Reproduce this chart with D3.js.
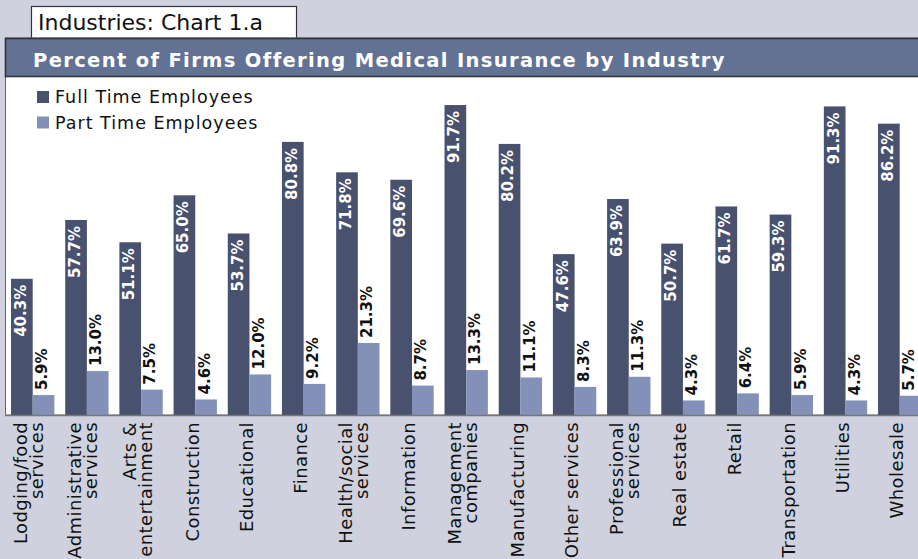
<!DOCTYPE html>
<html lang="en">
<head>
  <meta charset="UTF-8">
  <title>Percent of Firms Offering Medical Insurance by Industry</title>
  <script src="https://d3js.org/d3.v7.min.js"></script>
  <style>
    body { margin: 0; background: #cfd1de; }
    svg { display: block; }
    text { font-family: "DejaVu Sans", sans-serif; }
  </style>
</head>
<body>
  <svg id="chart" width="918" height="559"></svg>

  <script>
    // industries, "|" marks a line break in the axis label
    const categories = [
      "Lodging/food|services", "Administrative|services", "Arts &|entertainment",
      "Construction", "Educational", "Finance", "Health/social|services",
      "Information", "Management|companies", "Manufacturing", "Other services",
      "Professional|services", "Real estate", "Retail", "Transportation",
      "Utilities", "Wholesale"
    ];
    const fullTime = [40.3, 57.7, 51.1, 65.0, 53.7, 80.8, 71.8, 69.6, 91.7, 80.2, 47.6, 63.9, 50.7, 61.7, 59.3, 91.3, 86.2];
    const partTime = [5.9, 13.0, 7.5, 4.6, 12.0, 9.2, 21.3, 8.7, 13.3, 11.1, 8.3, 11.3, 4.3, 6.4, 5.9, 4.3, 5.7];
    const seriesNames = ["Full Time Employees", "Part Time Employees"];

    const colors = { full: "#48516e", part: "#8391b8" };
    const svg = d3.select("#chart");

    const data = categories.map((c, i) => ({ cat: c, full: fullTime[i], part: partTime[i] }));

    const x0 = d3.scaleBand().domain(categories).range([5.6, 926.8])
      .paddingInner(0.2).paddingOuter(0.1);
    const x1 = d3.scaleBand().domain(["full", "part"]).range([0, x0.bandwidth()]);
    const y = d3.scaleLinear().domain([0, 100]).range([415, 77]);

    // tab
    svg.append("rect").attr("x", 31.5).attr("y", 6.5).attr("width", 265).attr("height", 32)
      .attr("fill", "#fff").attr("stroke", "#333").attr("stroke-width", 1.2);
    svg.append("text").attr("x", 38).attr("y", 30)
      .attr("font-size", 22).attr("fill", "#111")
      .text("Industries:  Chart 1.a");

    // panel
    svg.append("rect").attr("x", 5.5).attr("y", 38).attr("width", 930).attr("height", 377)
      .attr("fill", "#fff").attr("stroke", "#666").attr("stroke-width", 1);
    svg.append("rect").attr("x", 5.5).attr("y", 38.5).attr("width", 930).attr("height", 38)
      .attr("fill", "#627294").attr("stroke", "#333").attr("stroke-width", 1.6);
    svg.append("text").attr("x", 33).attr("y", 67)
      .attr("font-size", 19.5).attr("font-weight", "bold").attr("fill", "#fff")
      .attr("letter-spacing", 1.35)
      .text("Percent of Firms Offering Medical Insurance by Industry");

    // legend
    const legend = svg.append("g");
    seriesNames.forEach((name, i) => {
      const g = legend.append("g").attr("transform", `translate(37, ${91 + i * 25.5})`);
      g.append("rect").attr("width", 12).attr("height", 12)
        .attr("fill", i === 0 ? colors.full : colors.part);
      g.append("text").attr("x", 18).attr("y", 12)
        .attr("font-size", 17.5).attr("letter-spacing", 1).attr("fill", "#111").text(name);
    });

    // bars
    const groups = svg.append("g").selectAll("g").data(data).join("g")
      .attr("transform", d => `translate(${x0(d.cat)},0)`);

    groups.append("rect")
      .attr("x", x1("full")).attr("width", x1.bandwidth())
      .attr("y", d => y(d.full)).attr("height", d => y(0) - y(d.full))
      .attr("fill", colors.full);
    groups.append("rect")
      .attr("x", x1("part")).attr("width", x1.bandwidth())
      .attr("y", d => y(d.part)).attr("height", d => y(0) - y(d.part))
      .attr("fill", colors.part);

    // value labels
    groups.append("text")
      .attr("transform", d => `translate(${x1("full") + x1.bandwidth() / 2 - 1.5}, ${y(d.full) + 6}) rotate(-90)`)
      .attr("text-anchor", "end").attr("dy", "0.36em")
      .attr("font-size", 15).attr("font-weight", "bold").attr("fill", "#fff")
      .text(d => d.full.toFixed(1) + "%");
    groups.append("text")
      .attr("transform", d => `translate(${x1("part") + x1.bandwidth() / 2 - 2}, ${y(d.part) - 5}) rotate(-90)`)
      .attr("text-anchor", "start").attr("dy", "0.36em")
      .attr("font-size", 15).attr("font-weight", "bold").attr("fill", "#111")
      .text(d => d.part.toFixed(1) + "%");

    // baseline
    svg.append("line").attr("x1", 5).attr("x2", 918).attr("y1", 415.5).attr("y2", 415.5)
      .attr("stroke", "#777").attr("stroke-width", 1.5);

    // category labels
    groups.append("text")
      .attr("transform", `translate(${x0.bandwidth() / 2 - 4}, 422) rotate(-90)`)
      .attr("text-anchor", "end").attr("font-size", 18).attr("letter-spacing", 0.4).attr("fill", "#111")
      .each(function (d) {
        const lines = d.cat.split("|");
        const t = d3.select(this);
        lines.forEach((line, k) => {
          const off = lines.length === 1 ? 1 : (k === 0 ? -8 : 8);
          t.append("tspan").attr("x", 0).attr("y", off).attr("dy", "0.36em").text(line);
        });
      });
  </script>
</body>
</html>
